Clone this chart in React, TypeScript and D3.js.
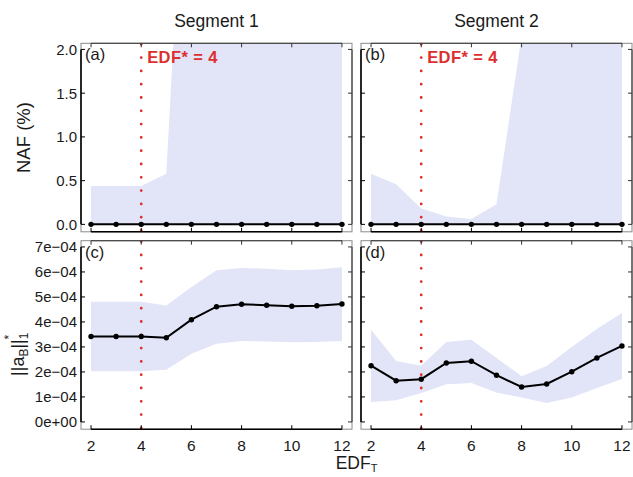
import React from "react";
import * as d3 from "d3";

// EDF_T grid evaluated in each segment
const edf = [2, 3, 4, 5, 6, 7, 8, 9, 10, 11, 12];
const selectedEdf = 4;
const segmentTitles = ["Segment 1", "Segment 2"];
const panelTags = [["(a)", "(b)"], ["(c)", "(d)"]];

// NAF (%) — median and interval bounds per EDF_T
const nafSeg1 = [0, 0, 0, 0, 0, 0, 0, 0, 0, 0, 0];
const nafSeg1Lo = [0, 0, 0, 0, 0, 0, 0, 0, 0, 0, 0];
const nafSeg1Hi = [0.44, 0.44, 0.44, 0.58, 5.9, 6.3, 6.6, 6.8, 7.0, 7.1, 7.3];
const nafSeg2 = [0, 0, 0, 0, 0, 0, 0, 0, 0, 0, 0];
const nafSeg2Lo = [0, 0, 0, 0, 0, 0, 0, 0, 0, 0, 0];
const nafSeg2Hi = [0.58, 0.46, 0.18, 0.09, 0.06, 0.23, 2.15, 3.4, 4.1, 4.6, 5.0];

// ||a_B||_1^* — median and interval bounds per EDF_T
const normSeg1 = [3.42e-4, 3.42e-4, 3.42e-4, 3.37e-4, 4.09e-4, 4.61e-4, 4.71e-4, 4.67e-4, 4.63e-4, 4.65e-4, 4.72e-4];
const normSeg1Lo = [2.03e-4, 2.03e-4, 2.03e-4, 2.09e-4, 2.73e-4, 3.13e-4, 3.24e-4, 3.22e-4, 3.19e-4, 3.2e-4, 3.24e-4];
const normSeg1Hi = [4.81e-4, 4.81e-4, 4.81e-4, 4.66e-4, 5.4e-4, 6.07e-4, 6.16e-4, 6.13e-4, 6.07e-4, 6.1e-4, 6.19e-4];
const normSeg2 = [2.25e-4, 1.65e-4, 1.71e-4, 2.36e-4, 2.43e-4, 1.87e-4, 1.4e-4, 1.52e-4, 2.01e-4, 2.56e-4, 3.04e-4];
const normSeg2Lo = [0.8e-4, 0.87e-4, 1.16e-4, 1.51e-4, 1.56e-4, 1.18e-4, 0.98e-4, 0.76e-4, 0.98e-4, 1.36e-4, 1.72e-4];
const normSeg2Hi = [3.69e-4, 2.44e-4, 2.25e-4, 3.2e-4, 3.29e-4, 2.56e-4, 1.83e-4, 2.24e-4, 3.0e-4, 3.72e-4, 4.36e-4];

// Axis breaks
const xTicks = [2, 4, 6, 8, 10, 12];
const nafTicks = [0, 0.5, 1, 1.5, 2];
const normTicks = [0, 1e-4, 2e-4, 3e-4, 4e-4, 5e-4, 6e-4, 7e-4];

const W = 633;
const H = 477;
const colLeft = [81, 361];
const panelW = 271;
const rowTop = [43.3, 240.7];
const panelH = 188.5;

const BAND = "#e2e4f7";
const RED = "#dc2f2f";
const FONT = "'Liberation Sans', Arial, Helvetica, sans-serif";

const fmtNaf = (v: number) => d3.format(".1f")(v);
const fmtSci = (v: number) => {
  if (v === 0) return "0e+00";
  const [m, e] = v.toExponential(0).split("e");
  const ex = parseInt(e, 10);
  const sign = ex < 0 ? "\u2212" : "+";
  return `${m}e${sign}${String(Math.abs(ex)).padStart(2, "0")}`;
};

type PanelSpec = {
  row: number;
  col: number;
  mid: number[];
  lo: number[];
  hi: number[];
  yDomain: [number, number];
  yTicks: number[];
  fmt: (v: number) => string;
};

const panels: PanelSpec[] = [
  { row: 0, col: 0, mid: nafSeg1, lo: nafSeg1Lo, hi: nafSeg1Hi, yDomain: [-0.085, 2.07], yTicks: nafTicks, fmt: fmtNaf },
  { row: 0, col: 1, mid: nafSeg2, lo: nafSeg2Lo, hi: nafSeg2Hi, yDomain: [-0.085, 2.07], yTicks: nafTicks, fmt: fmtNaf },
  { row: 1, col: 0, mid: normSeg1, lo: normSeg1Lo, hi: normSeg1Hi, yDomain: [-0.29e-4, 7.25e-4], yTicks: normTicks, fmt: fmtSci },
  { row: 1, col: 1, mid: normSeg2, lo: normSeg2Lo, hi: normSeg2Hi, yDomain: [-0.29e-4, 7.25e-4], yTicks: normTicks, fmt: fmtSci },
];

function Panel({ spec }: { spec: PanelSpec }) {
  const left = colLeft[spec.col];
  const top = rowTop[spec.row];
  const x = d3.scaleLinear().domain([1.6, 12.4]).range([left, left + panelW]);
  const y = d3.scaleLinear().domain(spec.yDomain).range([top + panelH, top]);
  const clipId = `clip-${spec.row}-${spec.col}`;
  const tick = 4;

  const band = d3
    .area<number>()
    .x((_, i) => x(edf[i]))
    .y0((_, i) => y(spec.lo[i]))
    .y1((_, i) => y(spec.hi[i]));
  const line = d3
    .line<number>()
    .x((_, i) => x(edf[i]))
    .y((d) => y(d));

  const yMin = y(spec.yTicks[0]);
  const yMax = y(spec.yTicks[spec.yTicks.length - 1]);
  const xMin = x(xTicks[0]);
  const xMax = x(xTicks[xTicks.length - 1]);
  const bottom = top + panelH;
  const right = left + panelW;

  return (
    <g>
      <defs>
        <clipPath id={clipId}>
          <rect x={left} y={top} width={panelW} height={panelH} />
        </clipPath>
      </defs>
      <g clipPath={`url(#${clipId})`}>
        <path d={band(spec.mid) ?? ""} fill={BAND} stroke="none" />
        <line
          x1={x(selectedEdf)}
          x2={x(selectedEdf)}
          y1={top + 1}
          y2={bottom}
          stroke={RED}
          strokeWidth={2.8}
          strokeLinecap="round"
          strokeDasharray="0 13.3"
        />
        <path d={line(spec.mid) ?? ""} fill="none" stroke="#000" strokeWidth={2} />
        {spec.mid.map((v, i) => (
          <circle key={i} cx={x(edf[i])} cy={y(v)} r={2.7} fill="#000" />
        ))}
      </g>
      {/* panel frame */}
      <rect x={left} y={top} width={panelW} height={panelH} fill="none" stroke="#8a8a8a" strokeWidth={1} />
      {/* capped axis lines */}
      <line x1={left} x2={left} y1={yMin} y2={yMax} stroke="#000" strokeWidth={1.6} />
      <line x1={xMin} x2={xMax} y1={bottom} y2={bottom} stroke="#000" strokeWidth={1.6} />
      <line x1={right} x2={right} y1={yMin} y2={yMax} stroke="#333" strokeWidth={1.1} />
      <line x1={xMin} x2={xMax} y1={top} y2={top} stroke="#333" strokeWidth={1.1} />
      {/* inward ticks */}
      {spec.yTicks.map((t) => (
        <g key={`y${t}`}>
          <line x1={left} x2={left + tick} y1={y(t)} y2={y(t)} stroke="#000" strokeWidth={1} />
          <line x1={right} x2={right - tick} y1={y(t)} y2={y(t)} stroke="#333" strokeWidth={1} />
        </g>
      ))}
      {xTicks.map((t) => (
        <g key={`x${t}`}>
          <line x1={x(t)} x2={x(t)} y1={bottom} y2={bottom - tick} stroke="#000" strokeWidth={1} />
          <line x1={x(t)} x2={x(t)} y1={top} y2={top + tick} stroke="#333" strokeWidth={1} />
        </g>
      ))}
      {/* y tick labels on the left column */}
      {spec.col === 0 &&
        spec.yTicks.map((t) => (
          <text
            key={`yl${t}`}
            x={left - 4}
            y={y(t)}
            dy="0.36em"
            textAnchor="end"
            fontSize={15}
            fill="#1a1a1a"
          >
            {spec.fmt(t)}
          </text>
        ))}
      {/* x tick labels on the bottom row */}
      {spec.row === 1 &&
        xTicks.map((t) => (
          <text key={`xl${t}`} x={x(t)} y={bottom + 21.5} textAnchor="middle" fontSize={15.5} fill="#1a1a1a">
            {t}
          </text>
        ))}
      {/* panel tag */}
      <text x={left + 4} y={top + 17} fontSize={16.5} fill="#1a1a1a">
        {panelTags[spec.row][spec.col]}
      </text>
      {spec.row === 0 && (
        <text x={x(selectedEdf) + 6} y={top + 20} fontSize={16.5} fontWeight="bold" letterSpacing={0.4} fill={RED}>
          {`EDF* = ${selectedEdf}`}
        </text>
      )}
    </g>
  );
}

export default function App() {
  return (
    <svg
      width={W}
      height={H}
      viewBox={`0 0 ${W} ${H}`}
      style={{ position: "absolute", left: 0, top: 0, background: "#fff" }}
      fontFamily={FONT}
    >
      <rect x={0} y={0} width={W} height={H} fill="#fff" />
      {segmentTitles.map((s, i) => (
        <text key={s} x={colLeft[i] + panelW / 2} y={27} textAnchor="middle" fontSize={17.5} fill="#1a1a1a">
          {s}
        </text>
      ))}
      {panels.map((p) => (
        <Panel key={`${p.row}-${p.col}`} spec={p} />
      ))}
      {/* y axis titles */}
      <text
        transform={`translate(30, ${rowTop[0] + panelH / 2}) rotate(-90)`}
        textAnchor="middle"
        fontSize={18.5}
        fill="#1a1a1a"
      >
        NAF (%)
      </text>
      <g transform={`translate(24, ${rowTop[1] + panelH / 2 + 13}) rotate(-90)`} fill="#1a1a1a">
        <text x={-28} y={0} fontSize={18}>
          ||a
          <tspan fontSize={12} dy={4}>B</tspan>
          <tspan fontSize={18} dy={-4}>||</tspan>
          <tspan fontSize={12} dy={4}>1</tspan>
          <tspan fontSize={12} dx={-7} dy={-15}>*</tspan>
        </text>
      </g>
      {/* x axis title */}
      <text x={(colLeft[0] + colLeft[1] + panelW) / 2} y={469} textAnchor="middle" fontSize={17.5} fill="#1a1a1a">
        EDF
        <tspan fontSize={11} dy={3}>T</tspan>
      </text>
    </svg>
  );
}
